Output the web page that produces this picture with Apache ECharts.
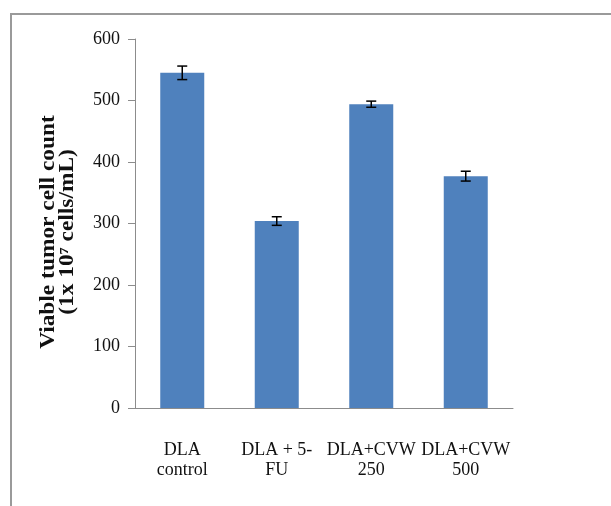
<!DOCTYPE html>
<html>
<head>
<meta charset="utf-8">
<script src="https://cdn.jsdelivr.net/npm/echarts@6/dist/echarts.min.js"></script>
<style>html,body{margin:0;padding:0;background:#fff}#c{width:611px;height:506px}</style>
</head>
<body>
<div id="c"></div>
<script>
const categories = ["DLA\ncontrol", "DLA + 5-\nFU", "DLA+CVW\n250", "DLA+CVW\n500"];
const values = [545, 304, 494, 377];
const errors = [11, 7, 5, 8];
const yTicks = [0, 100, 200, 300, 400, 500, 600];
const yTitle = 'Viable tumor cell count\n(1x 10\u2077 cells/mL)';

const chart = echarts.init(document.getElementById('c'));
const serif = "'Liberation Serif', 'DejaVu Serif', serif";
chart.setOption({
  backgroundColor: '#fff',
  animation: false,
  graphic: [{
    type: 'polyline',
    shape: { points: [[11, 506], [11, 14], [611, 14]] },
    style: { stroke: '#9a9a9a', lineWidth: 2, fill: null }
  }, {
    type: 'text',
    x: 58, y: 232,
    rotation: Math.PI / 2,
    scaleX: 1.17,
    style: {
      text: yTitle,
      fill: '#111',
      font: "bold 20px 'Liberation Serif', serif",
      lineHeight: 19,
      align: 'center',
      verticalAlign: 'middle'
    }
  }],
  grid: { left: 135, top: 39, width: 378, height: 369 },
  xAxis: {
    type: 'category',
    data: categories,
    axisLine: { lineStyle: { color: '#8c8c8c', width: 1 } },
    axisTick: { show: false },
    axisLabel: { interval: 0, color: '#111', fontFamily: serif, fontSize: 18, lineHeight: 20, margin: 32 }
  },
  yAxis: {
    type: 'value',
    min: yTicks[0], max: yTicks[yTicks.length - 1], interval: 100,
    splitLine: { show: false },
    axisLine: { show: true, lineStyle: { color: '#8c8c8c', width: 1 } },
    axisTick: { show: true, length: 7, lineStyle: { color: '#8c8c8c' } },
    axisLabel: { color: '#111', fontFamily: serif, fontSize: 18, margin: 15 }
  },
  series: [{
    type: 'bar',
    data: values,
    barWidth: 44,
    itemStyle: { color: '#4F81BD' }
  }, {
    type: 'custom',
    data: values.map((v, i) => [i, v - errors[i], v + errors[i]]),
    renderItem: function (params, api) {
      const lo = api.coord([api.value(0), api.value(1)]);
      const hi = api.coord([api.value(0), api.value(2)]);
      const x = lo[0], hw = 5;
      const st = { stroke: '#000', lineWidth: 1.5 };
      return {
        type: 'group',
        children: [
          { type: 'line', shape: { x1: x, y1: lo[1], x2: x, y2: hi[1] }, style: st },
          { type: 'line', shape: { x1: x - hw, y1: lo[1], x2: x + hw, y2: lo[1] }, style: st },
          { type: 'line', shape: { x1: x - hw, y1: hi[1], x2: x + hw, y2: hi[1] }, style: st }
        ]
      };
    },
    z: 10
  }]
});
</script>
</body>
</html>
